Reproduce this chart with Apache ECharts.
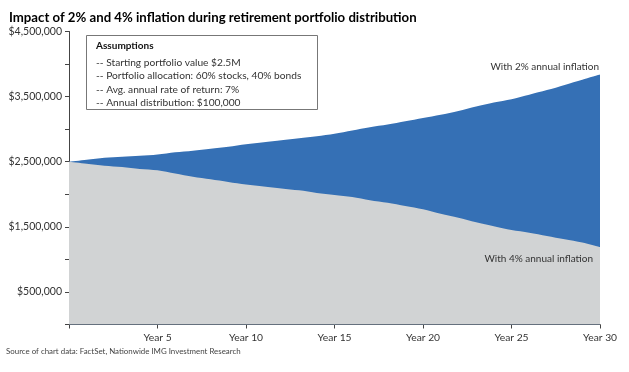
<!DOCTYPE html>
<html>
<head>
<meta charset="utf-8">
<script src="https://cdn.jsdelivr.net/npm/echarts@6/dist/echarts.min.js"></script>
<style>html,body{margin:0;padding:0;background:#fff;}#c{width:629px;height:372px;}</style>
</head>
<body>
<div id="c"></div>
<script>
var years = [0,1,2,3,4,5,6,7,8,9,10,11,12,13,14,15,16,17,18,19,20,21,22,23,24,25,26,27,28,29,30];
var inflation2 = [2500000,2530000,2560000,2575000,2590000,2610000,2645000,2670000,2700000,2730000,2770000,2800000,2830000,2860000,2890000,2930000,2980000,3030000,3070000,3120000,3170000,3220000,3280000,3350000,3410000,3460000,3530000,3600000,3680000,3760000,3840000];
var inflation4 = [2500000,2470000,2440000,2420000,2390000,2370000,2320000,2270000,2230000,2190000,2150000,2120000,2090000,2060000,2020000,1990000,1960000,1910000,1870000,1820000,1770000,1700000,1640000,1570000,1510000,1450000,1410000,1360000,1310000,1260000,1190000];
var xTicks = [5,10,15,20,25,30];
var yLabelValues = [500000,1500000,2500000,3500000,4500000];
var titleText = 'Impact of 2% and 4% inflation during retirement portfolio distribution';
var assumptions = ['Assumptions','-- Starting portfolio value $2.5M','-- Portfolio allocation: 60% stocks, 40% bonds','-- Avg. annual rate of return: 7%','-- Annual distribution: $100,000'];
var sourceText = 'Source of chart data: FactSet, Nationwide IMG Investment Research';
var label2 = 'With 2% annual inflation';
var label4 = 'With 4% annual inflation';

var font = 'Lato, "Open Sans", sans-serif';
var chart = echarts.init(document.getElementById('c'), null, {renderer:'canvas'});
function pairs(v){ return years.map(function(y,i){return [y,v[i]];}); }
var gfx = [
  {type:'rect', shape:{x:86.5,y:35.5,width:231,height:74}, style:{fill:'#fff',stroke:'#777',lineWidth:1}, z:10},
  {type:'text', x:96, y:46, style:{text:assumptions[0], font:'bold 10px '+font, fill:'#111', textVerticalAlign:'middle'}, z:11}
];
for (var i=1;i<assumptions.length;i++){
  gfx.push({type:'text', x:96, y:62.7+(i-1)*13.3, style:{text:assumptions[i], font:'10.2px '+font, fill:'#333', textVerticalAlign:'middle'}, z:11});
}
gfx.push({type:'text', x:599, y:67, style:{text:label2, font:'10px '+font, fill:'#333', textAlign:'right', textVerticalAlign:'middle'}, z:11});
gfx.push({type:'text', x:593, y:259, style:{text:label4, font:'10px '+font, fill:'#333', textAlign:'right', textVerticalAlign:'middle'}, z:11});
gfx.push({type:'text', x:6, y:351, style:{text:sourceText, font:'7.9px '+font, fill:'#444', textVerticalAlign:'middle'}, z:11});

chart.setOption({
  animation:false,
  title:{text:titleText, left:4, top:6, textStyle:{fontFamily:font, fontWeight:'bold', fontSize:13.2, color:'#000'}},
  grid:{left:69, right:29, top:31.5, bottom:47.5},
  xAxis:{type:'value', min:0, max:30, interval:5,
    axisLine:{show:true, lineStyle:{color:'#444', width:1}},
    axisTick:{show:true, length:4, lineStyle:{color:'#444'}},
    splitLine:{show:false},
    axisLabel:{fontFamily:font, fontSize:10.3, color:'#333', margin:8,
      formatter:function(v){ return xTicks.indexOf(v)>=0 ? 'Year '+v : ''; }}
  },
  yAxis:{type:'value', min:0, max:4500000, interval:500000,
    axisLine:{show:true, lineStyle:{color:'#444', width:1}},
    axisTick:{show:true, length:4, lineStyle:{color:'#444'}},
    splitLine:{show:false},
    axisLabel:{fontFamily:font, fontSize:10.5, color:'#333', margin:7,
      formatter:function(v){ return yLabelValues.indexOf(v)>=0 ? '$'+v.toLocaleString('en-US') : ''; }}
  },
  series:[
    {name:label2, type:'line', data:pairs(inflation2), symbol:'none', smooth:0.3,
      lineStyle:{width:0}, areaStyle:{color:'#3570b5', opacity:1}, z:2},
    {name:label4, type:'line', data:pairs(inflation4), symbol:'none', smooth:0.3,
      lineStyle:{width:0}, areaStyle:{color:'#d1d3d4', opacity:1}, z:3}
  ],
  graphic:gfx
});
</script>
</body>
</html>
